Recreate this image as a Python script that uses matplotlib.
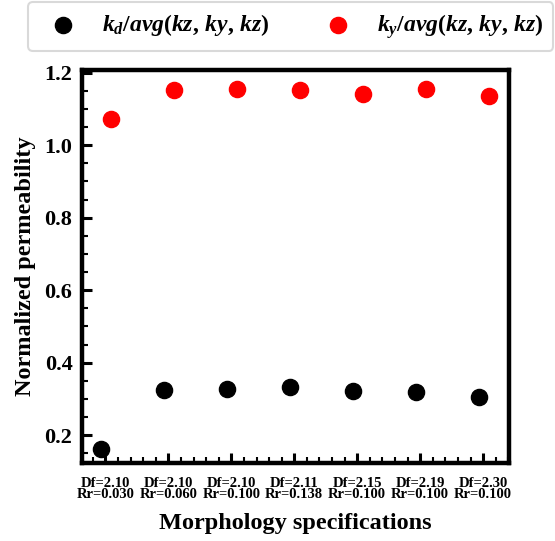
import matplotlib
matplotlib.use("Agg")
import matplotlib.pyplot as plt
from matplotlib.ticker import AutoMinorLocator, MultipleLocator

# -------------------------------
# Data
# -------------------------------
morphology_labels = [
    "Df=2.10\nRr=0.030",
    "Df=2.10\nRr=0.060",
    "Df=2.10\nRr=0.100",
    "Df=2.11\nRr=0.138",
    "Df=2.15\nRr=0.100",
    "Df=2.19\nRr=0.100",
    "Df=2.30\nRr=0.100",
]
kd_norm = [0.161, 0.325, 0.327, 0.333, 0.321, 0.318, 0.304]
ky_norm = [1.073, 1.153, 1.155, 1.153, 1.141, 1.156, 1.135]
y_tick_values = [0.2, 0.4, 0.6, 0.8, 1.0, 1.2]

plt.rcParams["font.family"] = "Liberation Serif"
plt.rcParams["font.weight"] = "bold"
plt.rcParams["mathtext.fontset"] = "custom"
plt.rcParams["mathtext.rm"] = "Liberation Serif:bold"
plt.rcParams["mathtext.it"] = "Liberation Serif:italic:bold"
plt.rcParams["mathtext.bf"] = "Liberation Serif:bold"

fig = plt.figure(figsize=(5.55, 5.41), dpi=100)
ax = fig.add_axes([0.148, 0.144, 0.769, 0.727])

x = list(range(len(morphology_labels)))
ax.scatter([i - 0.065 for i in x], kd_norm, s=135, color="black", zorder=3,
           label=r"$k_d/avg(kz,\,ky,\,kz)$", clip_on=False)
ax.scatter([i + 0.095 for i in x], ky_norm, s=135, color="#ff0000", zorder=3,
           label=r"$k_y/avg(kz,\,ky,\,kz)$", clip_on=False)

ax.set_xlim(-0.37, 6.41)
ax.set_ylim(0.123, 1.208)
ax.set_xticks(x)
ax.set_xticklabels(morphology_labels, fontsize=10.5, fontweight="bold", linespacing=0.85)
ax.yaxis.set_major_locator(MultipleLocator(0.2))
ax.yaxis.set_minor_locator(AutoMinorLocator(4))
ax.xaxis.set_minor_locator(AutoMinorLocator(5))
ax.set_yticks(y_tick_values)
ax.set_yticklabels([f"{v:.1f}" for v in y_tick_values], fontsize=16, fontweight="bold")

ax.tick_params(axis="both", which="major", direction="in", length=7, width=2.2)
ax.tick_params(axis="x", which="major", pad=10)
ax.tick_params(axis="y", which="major", pad=7)
ax.tick_params(axis="both", which="minor", direction="in", length=4, width=1.5)
ax.tick_params(top=False, right=False, which="both")

for side in ["left", "right", "top", "bottom"]:
    ax.spines[side].set_linewidth(3.2)

ax.set_ylabel("Normalized permeability", fontsize=17.5, fontweight="bold", labelpad=6)
ax.set_xlabel("Morphology specifications", fontsize=17.5, fontweight="bold", labelpad=8)

leg = fig.legend(loc="upper left", bbox_to_anchor=(28 / 555, 1 - 2 / 541), ncol=2,
                 fontsize=17, frameon=True, fancybox=True, edgecolor="#d0d0d0",
                 borderaxespad=0, borderpad=0.42, handlelength=2.15, handletextpad=0.55,
                 columnspacing=1.85, markerscale=1.0)
leg.get_frame().set_linewidth(1.5)

fig.savefig("out.png", dpi=100)
